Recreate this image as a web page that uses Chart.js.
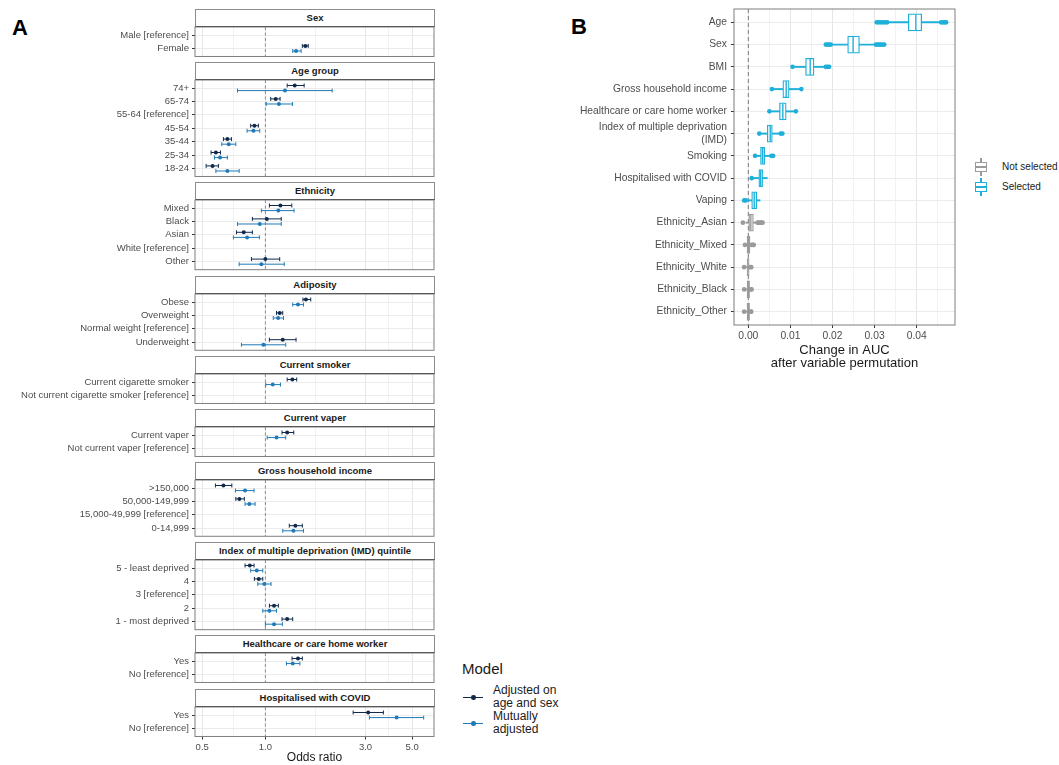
<!DOCTYPE html>
<html>
<head>
<meta charset="utf-8">
<script src="https://cdn.jsdelivr.net/npm/chart.js@4.4.1/dist/chart.umd.min.js"></script>
<style>
  body { margin: 0; background: #fff; font-family: "Liberation Sans", Arial, sans-serif; }
  #page { position: relative; width: 1059px; height: 765px; overflow: hidden; }
  canvas { position: absolute; }
  .tag { position: absolute; font-weight: bold; font-size: 22px; line-height: 22px; color: #000; }
  .strip { position: absolute; left: 195px; width: 240px; height: 18px; box-sizing: border-box;
           border: 1px solid #8c8c8c; border-bottom: 1.5px solid #333; background: #fff;
           font-weight: bold; font-size: 9.5px; line-height: 16px; color: #1a1a1a; text-align: center; }
  .lgTitle { position: absolute; left: 462px; top: 660px; font-size: 15px; line-height: 18px; color: #1a1a1a; }
  .lgItem { position: absolute; left: 462px; width: 120px; height: 27px; }
  .lgItem .ln { position: absolute; left: 1px; top: 13px; width: 20px; height: 1.3px; }
  .lgItem .dot { position: absolute; left: 9px; top: 11.3px; width: 4.6px; height: 4.6px; border-radius: 50%; }
  .lgItem .txt { position: absolute; left: 31px; top: 0; font-size: 12px; line-height: 13.3px; color: #1a1a1a; }
  .lgB { position: absolute; left: 975px; height: 18px; width: 84px; }
  .lgB .wh { position: absolute; left: 5.4px; top: 0; width: 1.2px; height: 18px; }
  .lgB .bx { position: absolute; left: 0; top: 4px; width: 12px; height: 10px; box-sizing: border-box; border: 1.3px solid; background: #fff; }
  .lgB .md { position: absolute; left: 0; top: 8.4px; width: 12px; height: 1.3px; }
  .lgB .txt { position: absolute; left: 27px; top: 2px; font-size: 10px; line-height: 14px; color: #1a1a1a; white-space: nowrap; }
</style>
</head>
<body>
<div id="page">
  <div class="tag" style="left:12px;top:17px;">A</div>
  <div class="tag" style="left:571px;top:16px;">B</div>

  <div class="lgTitle">Model</div>
  <div class="lgItem" style="top:684px;">
    <div class="ln" style="background:#10294a"></div><div class="dot" style="background:#10294a"></div>
    <div class="txt">Adjusted on<br>age and sex</div>
  </div>
  <div class="lgItem" style="top:710px;">
    <div class="ln" style="background:#1f7ab8"></div><div class="dot" style="background:#1f7ab8"></div>
    <div class="txt">Mutually<br>adjusted</div>
  </div>

  <div class="lgB" style="top:158px;">
    <div class="wh" style="background:#9a9a9a"></div><div class="bx" style="border-color:#9a9a9a"></div><div class="md" style="background:#9a9a9a"></div>
    <div class="txt">Not selected</div>
  </div>
  <div class="lgB" style="top:178px;">
    <div class="wh" style="background:#1fb0d9"></div><div class="bx" style="border-color:#1fb0d9"></div><div class="md" style="background:#1fb0d9"></div>
    <div class="txt">Selected</div>
  </div>
</div>

<script>
// ---------- Panel A: odds ratios ----------
const facetTitles = ['Sex', 'Age group', 'Ethnicity', 'Adiposity', 'Current smoker', 'Current vaper',
  'Gross household income', 'Index of multiple deprivation (IMD) quintile',
  'Healthcare or care home worker', 'Hospitalised with COVID'];

const rowLabels = [
  ['Male [reference]', 'Female'],
  ['74+', '65-74', '55-64 [reference]', '45-54', '35-44', '25-34', '18-24'],
  ['Mixed', 'Black', 'Asian', 'White [reference]', 'Other'],
  ['Obese', 'Overweight', 'Normal weight [reference]', 'Underweight'],
  ['Current cigarette smoker', 'Not current cigarette smoker [reference]'],
  ['Current vaper', 'Not current vaper [reference]'],
  ['>150,000', '50,000-149,999', '15,000-49,999 [reference]', '0-14,999'],
  ['5 - least deprived', '4', '3 [reference]', '2', '1 - most deprived'],
  ['Yes', 'No [reference]'],
  ['Yes', 'No [reference]']
];

// adjusted on age and sex
const adjOR = [[null, 1.55], [1.38, 1.12, null, 0.887, 0.659, 0.581, 0.560], [1.18, 1.016, 0.789, null, 1.0],
  [1.56, 1.17, null, 1.21], [1.345, null], [1.27, null], [0.631, 0.752, null, 1.39],
  [0.843, 0.93, null, 1.10, 1.27], [1.43, null], [3.09, null]];
const adjLo = [[null, 1.50], [1.27, 1.06, null, 0.851, 0.631, 0.551, 0.522], [1.045, 0.867, 0.728, null, 0.858],
  [1.51, 1.13, null, 1.045], [1.27, null], [1.20, null], [0.578, 0.723, null, 1.30],
  [0.80, 0.886, null, 1.045, 1.20], [1.34, null], [2.62, null]];
const adjHi = [[null, 1.60], [1.53, 1.175, null, 0.926, 0.689, 0.611, 0.597], [1.336, 1.19, 0.867, null, 1.17],
  [1.645, 1.21, null, 1.40], [1.41, null], [1.365, null], [0.692, 0.794, null, 1.50],
  [0.883, 0.972, null, 1.153, 1.35], [1.50, null], [3.65, null]];

// mutually adjusted
const mutOR = [[null, 1.40], [1.24, 1.16, null, 0.877, 0.669, 0.608, 0.659], [1.153, 0.94, 0.818, null, 0.957],
  [1.43, 1.15, null, 0.978], [1.084, null], [1.13, null], [0.80, 0.839, null, 1.36],
  [0.91, 0.989, null, 1.045, 1.10], [1.35, null], [4.22, null]];
const mutLo = [[null, 1.35], [0.736, 1.01, null, 0.818, 0.620, 0.572, 0.581], [0.957, 0.736, 0.704, null, 0.75],
  [1.35, 1.09, null, 0.769], [1.004, null], [1.02, null], [0.72, 0.80, null, 1.21],
  [0.851, 0.92, null, 0.972, 1.0], [1.26, null], [3.13, null]];
const mutHi = [[null, 1.48], [2.08, 1.345, null, 0.940, 0.723, 0.659, 0.750], [1.37, 1.19, 0.936, null, 1.23],
  [1.52, 1.22, null, 1.25], [1.18, null], [1.25, null], [0.883, 0.893, null, 1.52],
  [0.972, 1.064, null, 1.13, 1.205], [1.46, null], [5.68, null]];

const orTickValues = [0.5, 1, 3, 5];
const orTickLabels = ['0.5', '1.0', '3.0', '5.0'];
const orMinorValues = [0.707, 1.732, 3.873];

// ---------- Panel B: permutation importance ----------
const varLabels = ['Age', 'Sex', 'BMI', 'Gross household income', 'Healthcare or care home worker',
  ['Index of multiple deprivation', '(IMD)'], 'Smoking', 'Hospitalised with COVID', 'Vaping',
  'Ethnicity_Asian', 'Ethnicity_Mixed', 'Ethnicity_White', 'Ethnicity_Black', 'Ethnicity_Other'];
const varSelected = [1, 1, 1, 1, 1, 1, 1, 1, 1, 0, 0, 0, 0, 0];
const boxQ1 = [0.0380, 0.0236, 0.0136, 0.0082, 0.0074, 0.0045, 0.0029, 0.0025, 0.0008, 0.0000, -0.0003, -0.0003, -0.0003, -0.0003];
const boxMed = [0.0398, 0.0249, 0.0147, 0.0090, 0.0082, 0.0052, 0.0034, 0.0029, 0.0014, 0.0006, 0.0000, -0.0001, 0.0000, 0.0000];
const boxQ3 = [0.0412, 0.0264, 0.0156, 0.0097, 0.0090, 0.0057, 0.0039, 0.0034, 0.0020, 0.0012, 0.0004, 0.0002, 0.0003, 0.0003];
const whiskLo = [0.0335, 0.0200, 0.0107, 0.0058, 0.0052, 0.0028, 0.0018, 0.0008, -0.0004, -0.0006, -0.0007, -0.0008, -0.0008, -0.0008];
const whiskHi = [0.0455, 0.0299, 0.0180, 0.0124, 0.0111, 0.0075, 0.0052, 0.0045, 0.0028, 0.0020, 0.0010, 0.0007, 0.0008, 0.0007];
const outliers = [
  [0.0305, 0.0310, 0.0315, 0.0320, 0.0325, 0.0330, 0.0458, 0.0462, 0.0466, 0.0470],
  [0.0184, 0.0188, 0.0192, 0.0196, 0.0303, 0.0307, 0.0311, 0.0315, 0.0319, 0.0323],
  [0.0105, 0.0184, 0.0188, 0.0192],
  [0.0056, 0.0126],
  [0.0050, 0.0113],
  [0.0026, 0.0077, 0.0081],
  [0.0016, 0.0055, 0.0059],
  [0.0008],
  [-0.0010, -0.0006],
  [-0.0013, 0.0022, 0.0025, 0.0028, 0.0031, 0.0034],
  [-0.0008, 0.0008, 0.0011, 0.0013],
  [-0.0010, 0.0004, 0.0007],
  [-0.0010, 0.0005, 0.0008],
  [-0.0010, 0.0005, 0.0007]
];
const aucTickValues = [0, 0.01, 0.02, 0.03, 0.04];
const aucTickLabels = ['0.00', '0.01', '0.02', '0.03', '0.04'];
const aucMinorValues = [0.005, 0.015, 0.025, 0.035, 0.045];

const DARK = '#10294a', BLUE = '#1f7ab8', CYAN = '#1fb0d9', GREY = '#9a9a9a';

Chart.defaults.font.family = '"Liberation Sans", Arial, sans-serif';
Chart.defaults.animation = false;
Chart.defaults.events = [];
Chart.defaults.plugins.legend.display = false;
Chart.defaults.plugins.tooltip.enabled = false;

// panel border round the plot area
const panelBorder = {
  id: 'panelBorder',
  afterDraw(chart) {
    const { ctx, chartArea: a } = chart;
    ctx.save();
    ctx.strokeStyle = '#7f7f7f';
    ctx.lineWidth = 1;
    ctx.strokeRect(a.left, a.top, a.right - a.left, a.bottom - a.top);
    ctx.restore();
  }
};

// stop tick labels from pushing the plot area inwards
function noPad(s) {
  s.paddingTop = 0; s.paddingBottom = 0; s.paddingLeft = 0; s.paddingRight = 0;
}

const page = document.getElementById('page');

function makeCanvas(left, top, w, h) {
  const cv = document.createElement('canvas');
  cv.width = w; cv.height = h;
  cv.style.left = left + 'px';
  cv.style.top = top + 'px';
  page.appendChild(cv);
  return cv;
}

function errBar(lo, hi, y, color) {
  return {
    data: [{ x: lo, y: y }, { x: hi, y: y }],
    showLine: true, borderColor: color, borderWidth: 1,
    pointStyle: 'line', pointRotation: 90, pointRadius: 2,
    pointBorderColor: color, pointBorderWidth: 1, order: 1
  };
}

// ---- facets of panel A ----
const U = 13.4, STRIP = 18, GAP = 5.7, DODGE = 0.19;
let yPos = 9;
facetTitles.forEach((title, f) => {
  const strip = document.createElement('div');
  strip.className = 'strip';
  strip.style.top = yPos + 'px';
  strip.textContent = title;
  page.appendChild(strip);
  yPos += STRIP;

  const labels = rowLabels[f];
  const n = labels.length;
  const h = (n + 0.2) * U;
  const last = f === facetTitles.length - 1;
  const cv = makeCanvas(0, yPos - 1, 436, Math.round(h + (last ? 29 : 2)));
  const xHeight = last ? cv.height - 1 - h : 0;

  const datasets = [{
    data: [{ x: 1, y: -0.6 }, { x: 1, y: n - 0.4 }],
    showLine: true, borderColor: '#8c8c8c', borderWidth: 1, borderDash: [3, 2.5],
    pointRadius: 0, order: 3
  }];
  labels.forEach((_, i) => {
    if (adjOR[f][i] !== null) datasets.push(errBar(adjLo[f][i], adjHi[f][i], i - DODGE, DARK));
    if (mutOR[f][i] !== null) datasets.push(errBar(mutLo[f][i], mutHi[f][i], i + DODGE, BLUE));
  });
  const pts = (arr, off) => arr[f].map((v, i) => v === null ? null : { x: v, y: i + off }).filter(p => p);
  datasets.push({ data: pts(adjOR, -DODGE), pointRadius: 2, pointBackgroundColor: DARK, pointBorderWidth: 0, order: 0 });
  datasets.push({ data: pts(mutOR, DODGE), pointRadius: 2, pointBackgroundColor: BLUE, pointBorderWidth: 0, order: 0 });

  const allX = orTickValues.concat(orMinorValues).sort((a, b) => a - b);

  new Chart(cv, {
    type: 'scatter',
    data: { datasets },
    options: {
      responsive: false,
      layout: { autoPadding: false, padding: { top: 1, bottom: last ? 0 : cv.height - 1 - h, left: 0, right: 2 } },
      scales: {
        x: {
          type: 'logarithmic', min: 0.462, max: 6.36,
          afterBuildTicks: s => { s.ticks = allX.map(v => ({ value: v })); },
          afterFit: s => { s.height = xHeight; noPad(s); },
          border: { display: false },
          grid: {
            color: c => orTickValues.includes(c.tick && c.tick.value) ? '#e6e6e6' : '#f2f2f2',
            lineWidth: 1,
            drawTicks: last, tickLength: 3,
            tickColor: c => orTickValues.includes(c.tick && c.tick.value) ? '#333' : 'rgba(0,0,0,0)'
          },
          ticks: {
            display: last, autoSkip: false, maxRotation: 0, padding: 2,
            color: '#4d4d4d', font: { size: 9.5 },
            callback: v => { const k = orTickValues.indexOf(v); return k >= 0 ? orTickLabels[k] : ''; }
          },
          title: { display: last, text: 'Odds ratio', color: '#1a1a1a', font: { size: 12, lineHeight: 1 }, padding: { top: 0, bottom: 0 } }
        },
        y: {
          type: 'linear', reverse: true, min: -0.6, max: n - 0.4,
          afterBuildTicks: s => { s.ticks = labels.map((_, i) => ({ value: i })); },
          afterFit: s => { s.width = 195; noPad(s); },
          border: { display: false },
          grid: { color: '#ebebeb', lineWidth: 1, drawTicks: true, tickLength: 3, tickColor: '#333' },
          ticks: { autoSkip: false, padding: 3, color: '#4d4d4d', font: { size: 9.5 }, callback: v => labels[v] }
        }
      }
    },
    plugins: [panelBorder]
  });
  yPos += h + GAP;
});

// ---- panel B ----
const nVar = varLabels.length;
const varColors = varSelected.map(s => s ? CYAN : GREY);
const cvB = makeCanvas(560, 0, 400, 385);
const allAucX = aucTickValues.concat(aucMinorValues).sort((a, b) => a - b);
const outlierPts = [], outlierCols = [];
outliers.forEach((arr, i) => arr.forEach(v => { outlierPts.push({ x: v, y: i }); outlierCols.push(varColors[i]); }));

new Chart(cvB, {
  type: 'bar',
  data: {
    datasets: [
      {
        type: 'scatter', data: [{ x: 0, y: -0.6 }, { x: 0, y: nVar - 0.4 }],
        showLine: true, borderColor: '#7a7a7a', borderWidth: 1, borderDash: [4, 3], pointRadius: 0, order: 5
      },
      {
        data: varLabels.map((_, i) => ({ x: [whiskLo[i], whiskHi[i]], y: i })),
        backgroundColor: varColors, borderWidth: 0, barThickness: 1.3, grouped: false, order: 4
      },
      {
        data: varLabels.map((_, i) => ({ x: [boxQ1[i], boxQ3[i]], y: i })),
        backgroundColor: '#fff', borderColor: varColors, borderWidth: 1.3, borderSkipped: false,
        barThickness: 17, grouped: false, order: 3
      },
      {
        type: 'scatter', data: varLabels.map((_, i) => ({ x: boxMed[i], y: i })),
        pointStyle: 'line', pointRotation: 90, pointRadius: 7.8,
        pointBorderColor: varColors, pointBorderWidth: 1.4, order: 2
      },
      {
        type: 'scatter', data: outlierPts,
        pointRadius: 2.3, pointBackgroundColor: outlierCols, pointBorderWidth: 0, order: 1
      }
    ]
  },
  options: {
    responsive: false,
    indexAxis: 'y',
    layout: { autoPadding: false, padding: { top: 9, bottom: 0, left: 0, right: 5 } },
    scales: {
      x: {
        type: 'linear', min: -0.0034, max: 0.0491, offset: false,
        afterBuildTicks: s => { s.ticks = allAucX.map(v => ({ value: v })); },
        afterFit: s => { s.height = 60; noPad(s); },
        border: { display: false },
        grid: {
          color: c => aucTickValues.includes(c.tick && c.tick.value) ? '#e6e6e6' : '#f2f2f2',
          lineWidth: 1, drawTicks: true, tickLength: 3,
          tickColor: c => aucTickValues.includes(c.tick && c.tick.value) ? '#333' : 'rgba(0,0,0,0)'
        },
        ticks: {
          autoSkip: false, maxRotation: 0, padding: 2, color: '#4d4d4d', font: { size: 10.3 },
          callback: v => { const k = aucTickValues.indexOf(v); return k >= 0 ? aucTickLabels[k] : ''; }
        },
        title: {
          display: true, text: ['Change in AUC', 'after variable permutation'], color: '#1a1a1a',
          font: { size: 13, lineHeight: 1 }, padding: { top: 0, bottom: 15 }
        }
      },
      y: {
        type: 'linear', reverse: true, min: -0.6, max: nVar - 0.4, offset: false,
        afterBuildTicks: s => { s.ticks = varLabels.map((_, i) => ({ value: i })); },
        afterFit: s => { s.width = 174; noPad(s); },
        border: { display: false },
        grid: { color: '#ebebeb', lineWidth: 1, offset: false, drawTicks: true, tickLength: 3, tickColor: '#333' },
        ticks: { autoSkip: false, padding: 4, color: '#4d4d4d', font: { size: 10.3 }, callback: v => varLabels[v] }
      }
    }
  },
  plugins: [panelBorder]
});
</script>
</body>
</html>
